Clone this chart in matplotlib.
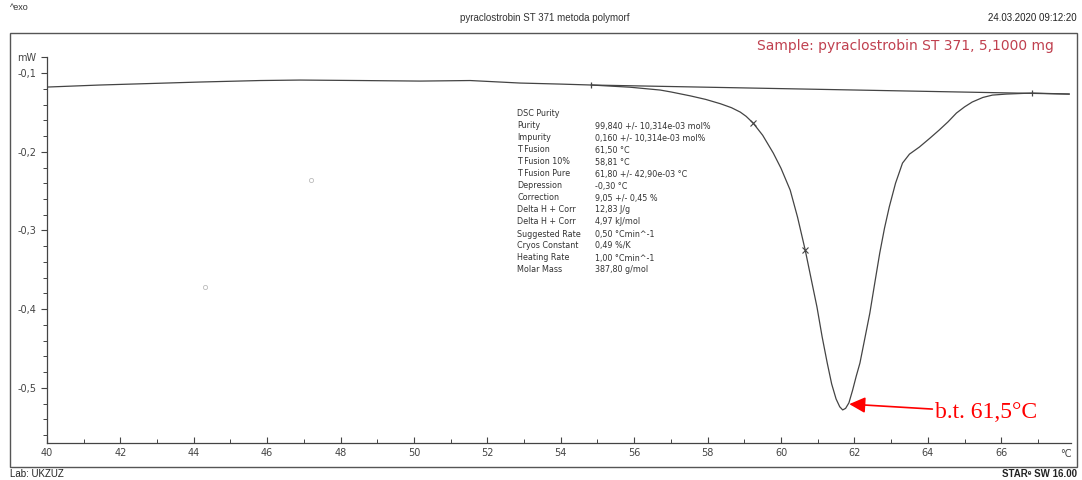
import matplotlib
matplotlib.use("Agg")
import matplotlib.pyplot as plt
from matplotlib.patches import Rectangle

# DSC curve (temperature in degC, heat flow in mW)
temp = [40.0, 41.44, 42.81, 44.17, 45.81, 46.9, 48.53, 50.17, 51.53, 52.89,
        53.98, 54.83, 55.89, 56.71, 57.0, 57.53, 57.95, 58.35, 58.65, 58.89,
        59.05, 59.24, 59.5, 59.79, 60.0, 60.25, 60.45, 60.66, 60.85, 60.98,
        61.12, 61.26, 61.38, 61.5, 61.6, 61.68, 61.76, 61.85, 61.95, 62.05,
        62.15, 62.28, 62.42, 62.55, 62.69, 62.82, 62.95, 63.12, 63.31, 63.5,
        63.77, 64.05, 64.31, 64.55, 64.78, 65.0, 65.21, 65.5, 65.76, 66.14,
        66.84, 67.85]
heat_flow = [-0.1178, -0.1152, -0.1133, -0.1114, -0.1095, -0.1089, -0.1095,
             -0.1102, -0.1095, -0.1127, -0.1140, -0.1152, -0.1180, -0.1216,
             -0.1240, -0.1290, -0.1335, -0.1390, -0.1440, -0.1496, -0.1550,
             -0.1635, -0.1790, -0.2017, -0.2210, -0.2487, -0.2830, -0.3250,
             -0.3680, -0.3973, -0.4350, -0.4685, -0.4950, -0.5140, -0.5240,
             -0.5280, -0.5260, -0.5190, -0.5030, -0.4850, -0.4685, -0.4380,
             -0.4050, -0.3680, -0.3287, -0.2970, -0.2700, -0.2400, -0.2144,
             -0.2030, -0.1940, -0.1830, -0.1724, -0.1620, -0.1508, -0.1430,
             -0.1368, -0.1310, -0.1280, -0.1267, -0.1254, -0.1267]

baseline_t = [54.83, 67.85]
baseline_hf = [-0.1152, -0.1267]
limit_t = [54.83, 66.84]
limit_hf = [-0.1152, -0.1254]
cross_t = [59.24, 60.66]
cross_hf = [-0.1635, -0.3250]
specks_t = [44.3, 47.19]
specks_hf = [-0.372, -0.236]

x_ticks = list(range(40, 67, 2))
x_labels = [str(v) for v in x_ticks]
y_ticks = [-0.08, -0.1, -0.2, -0.3, -0.4, -0.5]
y_labels = ["mW", "-0,1", "-0,2", "-0,3", "-0,4", "-0,5"]

purity_keys = ["DSC Purity", "Purity", "Impurity", "T Fusion", "T Fusion 10%",
               "T Fusion Pure", "Depression", "Correction", "Delta H + Corr",
               "Delta H + Corr", "Suggested Rate", "Cryos Constant",
               "Heating Rate", "Molar Mass"]
purity_vals = ["", "99,840 +/- 10,314e-03 mol%", "0,160 +/- 10,314e-03 mol%",
               "61,50 °C", "58,81 °C", "61,80 +/- 42,90e-03 °C", "-0,30 °C",
               "9,05 +/- 0,45 %", "12,83 J/g", "4,97 kJ/mol",
               "0,50 °Cmin^-1", "0,49 %/K", "1,00 °Cmin^-1", "387,80 g/mol"]

peak_t, peak_hf = 61.86, -0.5206
peak_label = "b.t. 61,5°C"

grey = "#444444"
fig = plt.figure(figsize=(10.82, 4.8), dpi=100)
ax = fig.add_axes([0.0434, 0.0771, 0.9464, 0.8035])

ax.plot(temp, heat_flow, color=grey, lw=0.9)
ax.plot(baseline_t, baseline_hf, color=grey, lw=0.9)
ax.plot(limit_t, limit_hf, ls="none", marker="|", ms=5, mew=0.9, color=grey)
ax.plot(cross_t, cross_hf, ls="none", marker="x", ms=4, mew=0.8, color=grey)
ax.plot(specks_t, specks_hf, ls="none", marker="o", ms=3, mfc="none",
        mec="#bbbbbb", mew=0.6)

ax.set_xlim(40, 67.9)
ax.set_ylim(-0.57, -0.08)
ax.set_xticks(x_ticks)
ax.set_xticklabels(x_labels)
ax.set_xticks([v + 1 for v in x_ticks], minor=True)
ax.set_yticks(y_ticks)
ax.set_yticklabels(y_labels)
ax.set_yticks([-0.12, -0.14, -0.16, -0.18, -0.22, -0.24, -0.26, -0.28,
               -0.32, -0.34, -0.36, -0.38, -0.42, -0.44, -0.46, -0.48,
               -0.52, -0.54, -0.56], minor=True)
ax.tick_params(axis="both", which="major", labelsize=7, colors=grey,
               width=0.8, length=4)
ax.tick_params(axis="x", which="both", direction="in")
ax.tick_params(axis="both", which="minor", colors=grey, width=0.7, length=3)
for side in ["top", "right"]:
    ax.spines[side].set_visible(False)
for side in ["left", "bottom"]:
    ax.spines[side].set_color(grey)
    ax.spines[side].set_linewidth(0.9)
ax.text(67.77, -0.577, "°C", ha="center", va="top", fontsize=7, color=grey)

# purity table
for i, (k, v) in enumerate(zip(purity_keys, purity_vals)):
    fig.text(517 / 1082, 1 - (114 + 12 * i) / 480, k, fontsize=5.8,
             color="#333333", va="center")
    fig.text(595 / 1082, 1 - (114 + 12 * i) / 480, v, fontsize=5.8,
             color="#333333", va="center")

ax.annotate(peak_label, xy=(peak_t, peak_hf), xytext=(64.2, -0.531),
            fontsize=17, color="red", family="Liberation Serif", va="center",
            arrowprops=dict(arrowstyle="-|>", color="red", lw=1.2,
                            mutation_scale=24, shrinkA=0, shrinkB=0))

# page frame and header/footer
fig.patches.append(Rectangle((10 / 1082, 1 - 467 / 480), 1067 / 1082, 434 / 480,
                             transform=fig.transFigure, fill=False,
                             ec="#555555", lw=1.0))
fig.text(10 / 1082, 1 - 8 / 480, "^exo", fontsize=6.5, color="#333333",
         va="center", family="Liberation Sans")
fig.text(545 / 1082, 1 - 18 / 480, "pyraclostrobin ST 371 metoda polymorf",
         fontsize=7, color="#333333", ha="center", va="center",
         family="Liberation Sans")
fig.text(1077 / 1082, 1 - 18 / 480, "24.03.2020 09:12:20", fontsize=7,
         color="#222222", ha="right", va="center", family="Liberation Sans")
fig.text(905 / 1082, 1 - 46 / 480, "Sample: pyraclostrobin ST 371, 5,1000 mg",
         fontsize=10, color="#c0404f", ha="center", va="center")
fig.text(10 / 1082, 1 - 474 / 480, "Lab: UKZUZ", fontsize=7, color="#222222",
         va="center", family="Liberation Sans")
fig.text(1077 / 1082, 1 - 474 / 480, "STAR\u1d49 SW 16.00", fontsize=7,
         color="#222222", ha="right", va="center", family="Liberation Sans",
         fontweight="bold")

fig.savefig("out.png", dpi=100)
